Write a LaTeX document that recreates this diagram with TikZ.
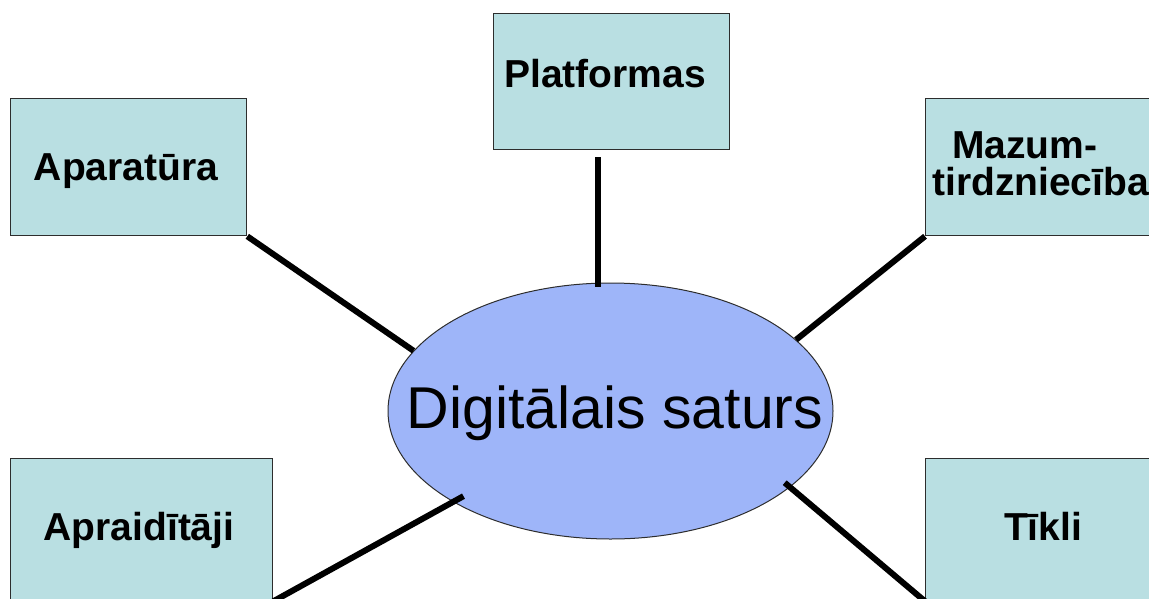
\documentclass[tikz,border=0pt]{standalone}
\usepackage{fontspec}
\setmainfont{Liberation Sans}
\usetikzlibrary{shapes.geometric}
\definecolor{boxfill}{RGB}{185,223,226}
\definecolor{ellfill}{RGB}{158,181,249}
\definecolor{edge}{RGB}{45,45,45}
\begin{document}
\begin{tikzpicture}[x=1pt,y=-1pt,
  box/.style={draw=edge, line width=1.3pt, fill=boxfill, rectangle,
    inner sep=0pt, anchor=north west},
  lbl/.style={font=\bfseries\fontsize{39}{37}\selectfont, inner sep=0pt},
  conn/.style={line width=6pt, black},
  hub/.style={ellipse, draw=edge, line width=1pt, fill=ellfill, inner sep=0pt}]
  \useasboundingbox (0,0) rectangle (1149,598);
  \clip (0,0) rectangle (1149,598);

  % outer boxes
  \node[box, minimum width=236pt, minimum height=137pt] (apar) at (10,98) {};
  \node[box, minimum width=236pt, minimum height=136pt] (plat) at (493,13) {};
  \node[box, minimum width=236pt, minimum height=137pt] (mazum) at (925,98) {};
  \node[box, minimum width=262pt, minimum height=142pt] (apraid) at (10,458) {};
  \node[box, minimum width=236pt, minimum height=142pt] (tikli) at (925,458) {};

  % box labels
  \node[lbl, anchor=base] (aparT) at (126,180) {Aparatūra};
  \node[lbl, anchor=base] (platT) at (605,87) {Platformas};
  \node[lbl, align=left, anchor=base west] (mazumT) at (932,195)
    {\hspace*{20pt}Mazum-\\tirdzniecība};
  \node[lbl, anchor=base] (apraidT) at (139,540) {Apraidītāji};
  \node[lbl, anchor=base] (tikliT) at (1043,540) {Tīkli};

  % central ellipse
  \node[hub, minimum width=445pt, minimum height=256pt] (dig) at (610.5,411) {};
  \node[font=\fontsize{59}{60}\selectfont, inner sep=0pt, anchor=base] (digT)
    at (615,428) {Digitālais saturs};

  % connectors
  \coordinate (platEnd) at (598,157);
  \draw[conn] (apar.south east) -- (dig.163.4);
  \draw[conn] (platEnd) -- ([yshift=-4pt]platEnd |- dig.north);
  \draw[conn] (mazum.south west) -- (dig.21.6);
  \draw[conn, shorten >=-12pt] (apraid.south east) -- (dig.210.6);
  \draw[conn, shorten <=-7pt] (dig.337.3) -- (tikli.south west);
\end{tikzpicture}
\end{document}
